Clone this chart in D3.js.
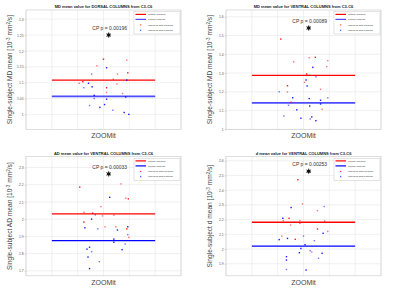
<!DOCTYPE html>
<html>
<head>
<meta charset="utf-8">
<script src="https://cdn.jsdelivr.net/npm/d3@7"></script>
<style>
  body { margin: 0; background: #fff; }
  svg { display: block; font-family: "Liberation Sans", Arial, sans-serif; }
</style>
</head>
<body>
<svg id="chart"></svg>
<script>
// Data
const titles = [
    "MD mean value for DORSAL COLUMNS from C3-C6",
    "MD mean value for VENTRAL COLUMNS from C3-C6",
    "AD mean value for VENTRAL COLUMNS from C3-C6",
    "d mean value for VENTRAL COLUMNS from C3-C6"
];
const metrics = ["MD", "MD", "AD", "d"];
const cpLabels = ["0.00196", "0.00089", "0.00033", "0.00253"];
const yDomains = [[0.953, 1.329], [1.0, 1.636], [1.671, 2.364], [1.818, 2.629]];
const yTicks = [
    [1, 1.05, 1.1, 1.15, 1.2, 1.25, 1.3],
    [1, 1.1, 1.2, 1.3, 1.4, 1.5, 1.6],
    [1.7, 1.8, 1.9, 2, 2.1, 2.2, 2.3],
    [1.9, 2, 2.1, 2.2, 2.3, 2.4, 2.5, 2.6]
];
const xTicks = [0, 0.5, 1, 1.5, 2, 2.5, 3];
const category = "ZOOMit";
const medianControls = [1.108, 1.288, 2.031, 2.182];
const medianPatients = [1.057, 1.141, 1.875, 2.020];
const starValues = [1.25, 1.54, 2.263, 2.529];

const controlsX = [
    [1.50, 1.37, 1.95, 1.97, 1.77, 1.69, 1.10, 1.03, 1.76, 1.56, 1.56, 1.87],
    [1.06, 1.31, 1.61, 1.73, 1.97, 1.95, 1.56, 1.61, 1.52, 1.19, 1.19, 1.83, 1.26, 1.86],
    [1.04, 1.84, 1.93, 1.98, 1.45, 1.12, 1.29, 1.48, 1.70, 1.12, 1.53, 1.74, 1.95, 1.99],
    [1.39, 1.48, 1.77, 1.22, 1.11, 1.43, 1.43, 1.91, 1.25, 1.77, 1.97, 1.08, 1.34, 1.66]
];
const controlsY = [
    [1.174, 1.153, 1.171, 1.131, 1.127, 1.111, 1.103, 1.098, 1.096, 1.084, 1.069, 1.066],
    [1.481, 1.360, 1.382, 1.384, 1.366, 1.334, 1.295, 1.288, 1.250, 1.232, 1.199, 1.213, 1.144, 1.107],
    [2.186, 2.205, 2.122, 2.118, 2.073, 2.040, 2.035, 2.019, 2.023, 1.983, 1.956, 1.956, 1.944, 1.894],
    [2.471, 2.307, 2.261, 2.209, 2.193, 2.193, 2.177, 2.191, 2.163, 2.136, 2.120, 2.088, 2.066, 1.980]
];
const patientsX = [
    [1.56, 1.27, 1.95, 1.21, 1.12, 1.28, 1.32, 1.32, 1.56, 1.93, 1.23, 1.43, 1.52, 1.68, 1.90, 1.99],
    [1.68, 1.74, 1.55, 1.57, 1.03, 1.29, 1.61, 1.97, 1.83, 1.83, 1.21, 1.62, 1.37, 1.12, 1.45, 1.66, 1.63, 1.74],
    [1.62, 1.34, 1.27, 1.14, 1.39, 1.77, 1.97, 1.97, 1.70, 1.70, 1.92, 1.23, 1.18, 1.27, 1.86, 1.20, 1.42, 1.23],
    [1.26, 1.90, 1.10, 1.88, 1.50, 1.19, 1.03, 1.71, 1.53, 1.45, 1.63, 1.42, 1.86, 1.79, 1.17, 1.17, 1.17, 1.55]
];
const patientsY = [
    [1.147, 1.127, 1.108, 1.098, 1.084, 1.087, 1.060, 1.050, 1.048, 1.055, 1.028, 1.022, 1.031, 1.013, 1.006, 1.000],
    [1.330, 1.280, 1.263, 1.231, 1.200, 1.168, 1.164, 1.168, 1.155, 1.135, 1.128, 1.124, 1.104, 1.071, 1.059, 1.066, 1.055, 1.046],
    [2.127, 2.025, 2.000, 1.950, 1.944, 1.937, 1.956, 1.910, 1.884, 1.866, 1.855, 1.837, 1.826, 1.811, 1.823, 1.780, 1.753, 1.713],
    [2.282, 2.289, 2.209, 2.107, 2.088, 2.072, 2.064, 2.057, 2.029, 2.004, 1.989, 1.975, 1.971, 1.937, 1.948, 1.925, 1.861, 1.857]
];
const legendLabels = ["Median Controls", "Median Patients", "Individual data Controls", "Individual data Patients"];

// Kích thước
const width = 400;
const height = 293;
const panelW = 200;
const panelH = 146.5;
const margin = { top: 10, right: 19, bottom: 17.2, left: 26 };

const svg = d3.select("#chart")
    .attr("width", width)
    .attr("height", height);

const red = "#ff0000";
const blue = "#0000ff";

titles.forEach((title, i) => {
    const g = svg.append("g")
        .attr("transform", `translate(${(i % 2) * panelW},${Math.floor(i / 2) * panelH})`);

    const x = d3.scaleLinear()
        .domain([0, 3])
        .range([margin.left, panelW - margin.right]);

    const y = d3.scaleLinear()
        .domain(yDomains[i])
        .range([panelH - margin.bottom, margin.top]);

    // Grid
    g.append("g")
        .selectAll("line")
        .data(xTicks)
        .enter()
        .append("line")
        .attr("x1", d => x(d)).attr("x2", d => x(d))
        .attr("y1", y.range()[0]).attr("y2", y.range()[1])
        .attr("stroke", "#e3e3e3").attr("stroke-width", 0.5);

    g.append("g")
        .selectAll("line")
        .data(yTicks[i])
        .enter()
        .append("line")
        .attr("x1", x(0)).attr("x2", x(3))
        .attr("y1", d => y(d)).attr("y2", d => y(d))
        .attr("stroke", "#e3e3e3").attr("stroke-width", 0.5);

    // Box
    g.append("rect")
        .attr("x", x(0)).attr("y", y.range()[1])
        .attr("width", x(3) - x(0))
        .attr("height", y.range()[0] - y.range()[1])
        .attr("fill", "none")
        .attr("stroke", "#c8c8c8")
        .attr("stroke-width", 0.6);

    // Trục
    const yAxis = g.append("g")
        .attr("transform", `translate(${x(0)},0)`)
        .call(d3.axisLeft(y).tickValues(yTicks[i]).tickSize(1.2).tickPadding(1.2)
            .tickFormat(d3.format("~g")));
    yAxis.select(".domain").remove();
    yAxis.selectAll("line").attr("stroke", "#888").attr("stroke-width", 0.4);
    yAxis.selectAll("text")
        .attr("font-size", 3.4)
        .attr("fill", "#555");

    g.append("text")
        .attr("x", x(1.5))
        .attr("y", y.range()[0] + 9)
        .attr("text-anchor", "middle")
        .attr("font-size", 7)
        .attr("fill", "#444")
        .text(category);

    // Nhãn trục
    const yl = g.append("text")
        .attr("transform", `translate(12,${(y.range()[0] + y.range()[1]) / 2}) rotate(-90)`)
        .attr("text-anchor", "middle")
        .attr("font-size", 6.6)
        .attr("fill", "#444");
    yl.append("tspan").text(`Single-subject ${metrics[i]} mean [10`);
    yl.append("tspan").attr("dy", -2.5).attr("font-size", 4.6).text("-3");
    yl.append("tspan").attr("dy", 2.5).text(" mm");
    yl.append("tspan").attr("dy", -2.5).attr("font-size", 4.6).text("2");
    yl.append("tspan").attr("dy", 2.5).text("/s]");

    // Tiêu đề
    g.append("text")
        .attr("x", x(1.5))
        .attr("y", 8)
        .attr("text-anchor", "middle")
        .attr("font-size", 4)
        .attr("font-weight", "bold")
        .attr("fill", "#222")
        .text(title);

    // Median lines
    g.append("line")
        .attr("x1", x(0.5)).attr("x2", x(2.5))
        .attr("y1", y(medianControls[i])).attr("y2", y(medianControls[i]))
        .attr("stroke", red).attr("stroke-width", 1.3);

    g.append("line")
        .attr("x1", x(0.5)).attr("x2", x(2.5))
        .attr("y1", y(medianPatients[i])).attr("y2", y(medianPatients[i]))
        .attr("stroke", i < 2 ? "#4d4dff" : blue)
        .attr("stroke-width", i < 2 ? 1.8 : 1.3);

    // Individual points
    const ctrl = controlsX[i].map((v, k) => ({ x: v, y: controlsY[i][k] }));
    const pat = patientsX[i].map((v, k) => ({ x: v, y: patientsY[i][k] }));

    g.append("g")
        .selectAll("rect")
        .data(ctrl)
        .enter()
        .append("rect")
        .attr("x", d => x(d.x) - 0.7)
        .attr("y", d => y(d.y) - 0.7)
        .attr("width", 1.4).attr("height", 1.4)
        .attr("fill", red)
        .attr("opacity", (d, k) => k % 3 === 0 ? 0.9 : 0.55);

    g.append("g")
        .selectAll("rect")
        .data(pat)
        .enter()
        .append("rect")
        .attr("x", d => x(d.x) - 0.7)
        .attr("y", d => y(d.y) - 0.7)
        .attr("width", 1.4).attr("height", 1.4)
        .attr("fill", blue)
        .attr("opacity", (d, k) => k % 3 === 1 ? 0.55 : 0.9);

    // CP p-value
    g.append("text")
        .attr("x", x(1.62))
        .attr("y", y(starValues[i]) - 5)
        .attr("text-anchor", "middle")
        .attr("font-size", 5)
        .attr("fill", "#333")
        .text(`CP p = ${cpLabels[i]}`);

    const sx = x(1.6);
    const sy = y(starValues[i]);
    g.append("path")
        .attr("d", d3.symbol().type(d3.symbolAsterisk).size(20)())
        .attr("transform", `translate(${sx},${sy})`)
        .attr("stroke", "#000").attr("stroke-width", 0.7).attr("fill", "none");
    g.append("circle")
        .attr("cx", sx).attr("cy", sy).attr("r", 1.7)
        .attr("fill", "#111");

    // Legend
    const legend = g.append("g")
        .attr("transform", `translate(134, 11.7)`);

    legend.append("rect")
        .attr("width", 46).attr("height", 22.3)
        .attr("fill", "#fff")
        .attr("stroke", "#bbb").attr("stroke-width", 0.4);

    legend.append("line").attr("x1", 1.5).attr("x2", 12).attr("y1", 2.7).attr("y2", 2.7)
        .attr("stroke", red).attr("stroke-width", 1.2);
    legend.append("line").attr("x1", 1.5).attr("x2", 12).attr("y1", 7.7).attr("y2", 7.7)
        .attr("stroke", i < 2 ? "#4d4dff" : blue).attr("stroke-width", 1.2);
    legend.append("rect").attr("x", 6.2).attr("y", 12.7).attr("width", 1).attr("height", 1).attr("fill", red);
    legend.append("rect").attr("x", 6.2).attr("y", 18).attr("width", 1).attr("height", 1).attr("fill", blue);

    legend.selectAll(".lbl")
        .data(legendLabels)
        .enter()
        .append("text")
        .attr("x", 14)
        .attr("y", (d, k) => [3.5, 8.5, 14, 19.2][k])
        .attr("font-size", 2.4)
        .attr("fill", "#333")
        .text(d => d);
});
</script>
</body>
</html>
